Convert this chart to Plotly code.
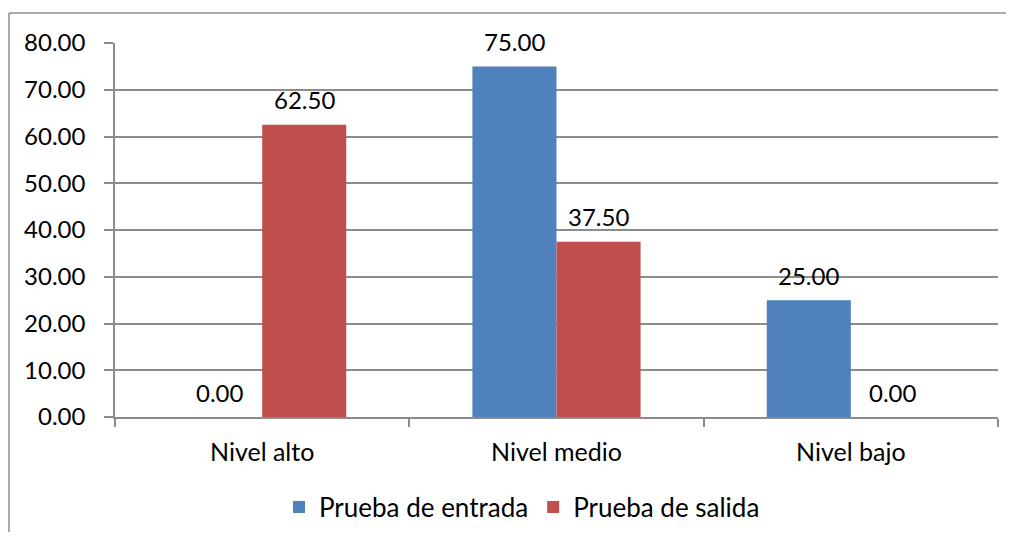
import plotly.graph_objects as go

categories = ["Nivel alto", "Nivel medio", "Nivel bajo"]
entrada = [0.00, 75.00, 25.00]
salida = [62.50, 37.50, 0.00]
series_names = ["Prueba de entrada", "Prueba de salida"]
y_ticks = [0, 10, 20, 30, 40, 50, 60, 70, 80]

FONT = "Lato"
FS_NUM = 24
FS_TXT = 25
GRID = "#8c8c8c"
OFF = 8  # page body margin

W, H = 1014 - 2 * OFF, 540 - 2 * OFF
L, T = 115 - OFF, 43 - OFF
pw, ph = 883, 374
R = W - L - pw
B = H - T - ph

fig = go.Figure()
series = [(series_names[0], entrada, "#4F81BD", -42), (series_names[1], salida, "#C0504D", 42)]
for name, vals, col, dx in series:
    fig.add_trace(go.Bar(
        x=categories, y=vals, name=name, marker=dict(color=col, line=dict(width=0)),
    ))
    for c, v in zip(categories, vals):
        fig.add_annotation(x=c, y=v, text=f"{v:.2f}", showarrow=False, xshift=dx, yshift=25,
                           yanchor="middle", xanchor="center",
                           font=dict(family=FONT, size=FS_NUM, color="#000000"))

fig.update_layout(
    width=W, height=H, barmode="group", bargap=0.4286, bargroupgap=0,
    margin=dict(l=L, r=R, t=T, b=B, autoexpand=False),
    paper_bgcolor="white", plot_bgcolor="white",
    font=dict(family=FONT, size=FS_TXT, color="#000000"),
    legend=dict(orientation="h", x=(522 - 115) / pw, xanchor="center", y=-(507 - 417) / ph,
                yanchor="middle", font=dict(family=FONT, size=26), itemwidth=30,
                traceorder="normal"),
    xaxis=dict(type="category", showgrid=False, showline=True, linecolor=GRID, linewidth=1.5,
               ticks="outside", tickson="boundaries", ticklen=8, tickcolor=GRID, tickwidth=1.5,
               ticklabelstandoff=12, tickfont=dict(family=FONT, size=FS_TXT)),
    yaxis=dict(range=[0, 80], tickvals=y_ticks, ticktext=[f"{v:.2f}" for v in y_ticks],
               showgrid=True, gridcolor=GRID, gridwidth=1.5, showline=True, linecolor=GRID, linewidth=1.5,
               ticks="outside", ticklen=9, tickcolor=GRID, tickwidth=1.5, zeroline=False,
               ticklabelstandoff=14, tickfont=dict(family=FONT, size=FS_NUM)),
    showlegend=True,
)

# outer chart border: top edge and left edge only
bx0 = (9 - 115) / pw
by0, by1 = (417 - 13) / ph, (417 - 580) / ph
fig.add_shape(type="line", xref="paper", yref="paper", x0=bx0, x1=(1100 - 115) / pw, y0=by0, y1=by0,
              line=dict(color="#8c8c8c", width=1.5), layer="below")
fig.add_shape(type="line", xref="paper", yref="paper", x0=bx0, x1=bx0, y0=by0, y1=by1,
              line=dict(color="#8c8c8c", width=1.5), layer="below")

fig.write_html("out.html", config={"responsive": False})
